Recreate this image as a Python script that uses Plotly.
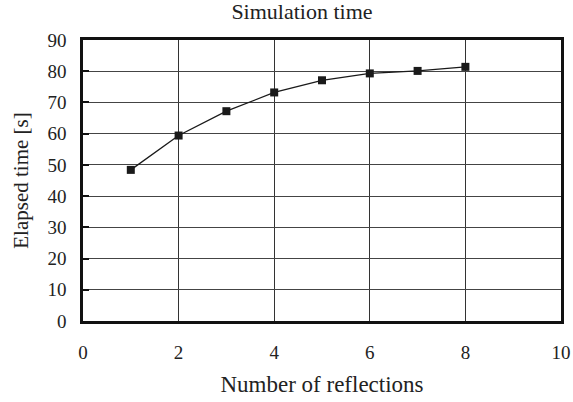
import plotly.graph_objects as go

reflections = [1, 2, 3, 4, 5, 6, 7, 8]
elapsed = [48.4, 59.4, 67.2, 73.2, 77.1, 79.3, 80.1, 81.4]
x_ticks = [0, 2, 4, 6, 8, 10]
y_ticks = [0, 10, 20, 30, 40, 50, 60, 70, 80, 90]

font_family = "Liberation Serif, Times New Roman, serif"

fig = go.Figure()
fig.add_trace(go.Scatter(
    x=reflections, y=elapsed, mode="lines+markers",
    line=dict(color="#1a1a1a", width=1.3),
    marker=dict(symbol="square", size=8, color="#1a1a1a"),
    showlegend=False,
))

fig.update_layout(
    width=573, height=402,
    margin=dict(l=83, r=12, t=40, b=81),
    paper_bgcolor="white", plot_bgcolor="white",
    font=dict(family=font_family, size=19, color="#222"),
    title=dict(text="Simulation time", x=0.527, xanchor="center",
               y=0.972, yanchor="middle", font=dict(size=22, family=font_family, color="#222")),
    xaxis=dict(
        range=[0, 10], tickvals=x_ticks, ticktext=[str(v) for v in x_ticks],
        showgrid=True, gridcolor="#333", gridwidth=1,
        showline=True, linecolor="#111", linewidth=2.5, mirror=True,
        ticks="", ticklabelstandoff=12, zeroline=False, automargin=False,
        title=dict(text="Number of reflections", font=dict(size=23, family=font_family), standoff=15),
    ),
    yaxis=dict(
        range=[0, 90], tickvals=y_ticks, ticktext=[str(v) for v in y_ticks],
        showgrid=True, gridcolor="#444", gridwidth=1,
        showline=True, linecolor="#111", linewidth=2.5, mirror=True,
        ticks="inside", ticklen=6, tickcolor="#111", tickwidth=2,
        ticklabelstandoff=10, zeroline=False, automargin=False,
        title=dict(text="Elapsed time [s]", font=dict(size=21, family=font_family), standoff=14),
    ),
)

fig.write_html("out.html", config={"displayModeBar": False},
               post_script="document.body.style.margin='0';")
